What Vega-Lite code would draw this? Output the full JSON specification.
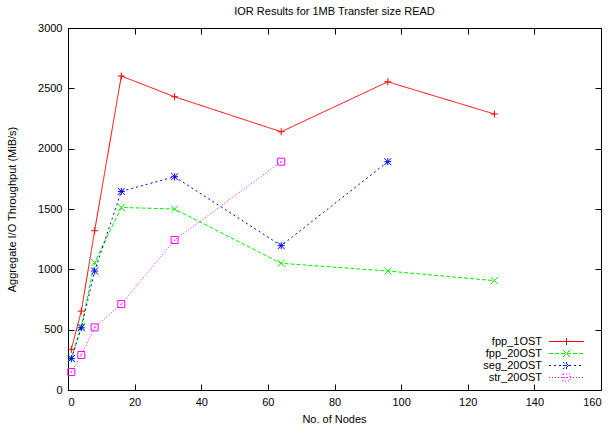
{
  "$schema": "https://vega.github.io/schema/vega-lite/v6.json",
  "width": 533,
  "height": 362,
  "autosize": {"type": "none"},
  "padding": {"left": 68, "top": 28, "right": 10, "bottom": 40},
  "background": "white",
  "title": {"text": "IOR Results for 1MB Transfer size READ", "fontSize": 11, "font": "Liberation Sans", "fontWeight": "normal", "offset": 5, "color": "black"},
  "config": {
    "view": {"stroke": "black", "strokeWidth": 1},
    "axis": {"grid": false, "labelFont": "Liberation Sans", "labelFontSize": 11, "labelColor": "black", "titleFont": "Liberation Sans", "titleFontSize": 11, "titleFontWeight": "normal", "titleColor": "black", "tickColor": "black", "domainColor": "black", "tickSize": -6, "labelPadding": 12, "domain": true, "format": "d"},
    "legend": {"orient": "none", "legendX": 493, "legendY": 308, "title": null, "labelFont": "Liberation Sans", "labelFontSize": 11, "labelColor": "black", "labelAlign": "right", "labelOffset": -30, "symbolSize": 49, "padding": 0, "rowPadding": 0, "symbolStrokeWidth": 1, "symbolOpacity": 1}
  },
  "data": {"values": [
    {"series": "fpp_1OST", "nodes": 1, "value": 337},
    {"series": "fpp_1OST", "nodes": 4, "value": 654},
    {"series": "fpp_1OST", "nodes": 8, "value": 1320},
    {"series": "fpp_1OST", "nodes": 16, "value": 2602},
    {"series": "fpp_1OST", "nodes": 32, "value": 2430},
    {"series": "fpp_1OST", "nodes": 64, "value": 2140},
    {"series": "fpp_1OST", "nodes": 96, "value": 2554},
    {"series": "fpp_1OST", "nodes": 128, "value": 2287},
    {"series": "fpp_20OST", "nodes": 1, "value": 265},
    {"series": "fpp_20OST", "nodes": 4, "value": 525},
    {"series": "fpp_20OST", "nodes": 8, "value": 1055},
    {"series": "fpp_20OST", "nodes": 16, "value": 1513},
    {"series": "fpp_20OST", "nodes": 32, "value": 1500},
    {"series": "fpp_20OST", "nodes": 64, "value": 1050},
    {"series": "fpp_20OST", "nodes": 96, "value": 986},
    {"series": "fpp_20OST", "nodes": 128, "value": 906},
    {"series": "seg_20OST", "nodes": 1, "value": 260},
    {"series": "seg_20OST", "nodes": 4, "value": 516},
    {"series": "seg_20OST", "nodes": 8, "value": 986},
    {"series": "seg_20OST", "nodes": 16, "value": 1646},
    {"series": "seg_20OST", "nodes": 32, "value": 1767},
    {"series": "seg_20OST", "nodes": 64, "value": 1196},
    {"series": "seg_20OST", "nodes": 96, "value": 1892},
    {"series": "str_20OST", "nodes": 1, "value": 149},
    {"series": "str_20OST", "nodes": 4, "value": 290},
    {"series": "str_20OST", "nodes": 8, "value": 519},
    {"series": "str_20OST", "nodes": 16, "value": 712},
    {"series": "str_20OST", "nodes": 32, "value": 1243},
    {"series": "str_20OST", "nodes": 64, "value": 1892}
  ]},
  "encoding": {
    "x": {"field": "nodes", "type": "quantitative", "scale": {"domain": [0, 160], "nice": false}},
    "y": {"field": "value", "type": "quantitative", "scale": {"domain": [0, 3000], "nice": false}},
    "color": {"field": "series", "type": "nominal", "scale": {"domain": ["fpp_1OST", "fpp_20OST", "seg_20OST", "str_20OST"], "range": ["#ff0000", "#00ee00", "#0000ff", "#ff00ff"]}}
  },
  "layer": [
    {
      "mark": {"type": "line", "strokeWidth": 1},
      "encoding": {
        "x": {"field": "nodes", "type": "quantitative", "axis": {"orient": "bottom", "values": [0, 20, 40, 60, 80, 100, 120, 140, 160], "title": "No. of Nodes", "titleX": 266, "titleY": 29, "titleBaseline": "middle"}},
        "y": {"field": "value", "type": "quantitative", "axis": {"orient": "left", "values": [0, 500, 1000, 1500, 2000, 2500, 3000], "title": "Aggregate I/O Throughput (MiB/s)", "titleX": -56, "titleY": 181, "titleBaseline": "middle", "titleAngle": -90}},
        "strokeDash": {"field": "series", "type": "nominal", "scale": {"domain": ["fpp_1OST", "fpp_20OST", "seg_20OST", "str_20OST"], "range": [[1, 0], [4, 2], [2, 3], [1, 2]]}}
      }
    },
    {
      "mark": {"type": "point", "filled": false, "size": 49, "strokeWidth": 1, "opacity": 0},
      "encoding": {
        "x": {"field": "nodes", "type": "quantitative", "axis": {"orient": "top", "values": [0, 20, 40, 60, 80, 100, 120, 140, 160], "labels": false, "title": null, "domain": false}},
        "y": {"field": "value", "type": "quantitative", "axis": {"orient": "right", "values": [0, 500, 1000, 1500, 2000, 2500, 3000], "labels": false, "title": null, "domain": false}},
        "shape": {"field": "series", "type": "nominal", "scale": {"domain": ["fpp_1OST", "fpp_20OST", "seg_20OST", "str_20OST"], "range": ["M-5,0H5M-1,0H1M0,-1V1", "M-5,0H5M-1,-1L1,1M-1,1L1,-1", "M-5,0H5M-1,0H1M0,-1V1M-1,-1L1,1M-1,1L1,-1", "M-5,0H5M-1,-1H1V1H-1ZM-0.2,0H0.2"]}}
      }
    },
    {
      "transform": [{"filter": "datum.series === 'fpp_1OST'"}],
      "mark": {"type": "point", "filled": false, "size": 49, "strokeWidth": 1, "opacity": 1, "shape": "M-1,0H1M0,-1V1"},
      "encoding": {"x": {"field": "nodes", "type": "quantitative", "axis": null}, "y": {"field": "value", "type": "quantitative", "axis": null}}
    },
    {
      "transform": [{"filter": "datum.series === 'fpp_20OST'"}],
      "mark": {"type": "point", "filled": false, "size": 49, "strokeWidth": 1, "opacity": 1, "shape": "M-1,-1L1,1M-1,1L1,-1"},
      "encoding": {"x": {"field": "nodes", "type": "quantitative", "axis": null}, "y": {"field": "value", "type": "quantitative", "axis": null}}
    },
    {
      "transform": [{"filter": "datum.series === 'seg_20OST'"}],
      "mark": {"type": "point", "filled": false, "size": 49, "strokeWidth": 1, "opacity": 1, "shape": "M-1,0H1M0,-1V1M-1,-1L1,1M-1,1L1,-1"},
      "encoding": {"x": {"field": "nodes", "type": "quantitative", "axis": null}, "y": {"field": "value", "type": "quantitative", "axis": null}}
    },
    {
      "transform": [{"filter": "datum.series === 'str_20OST'"}],
      "mark": {"type": "point", "filled": false, "size": 49, "strokeWidth": 1, "opacity": 1, "shape": "M-1,-1H1V1H-1ZM-0.2,0H0.2"},
      "encoding": {"x": {"field": "nodes", "type": "quantitative", "axis": null}, "y": {"field": "value", "type": "quantitative", "axis": null}}
    }
  ],
  "resolve": {"axis": {"x": "independent", "y": "independent"}}
}
